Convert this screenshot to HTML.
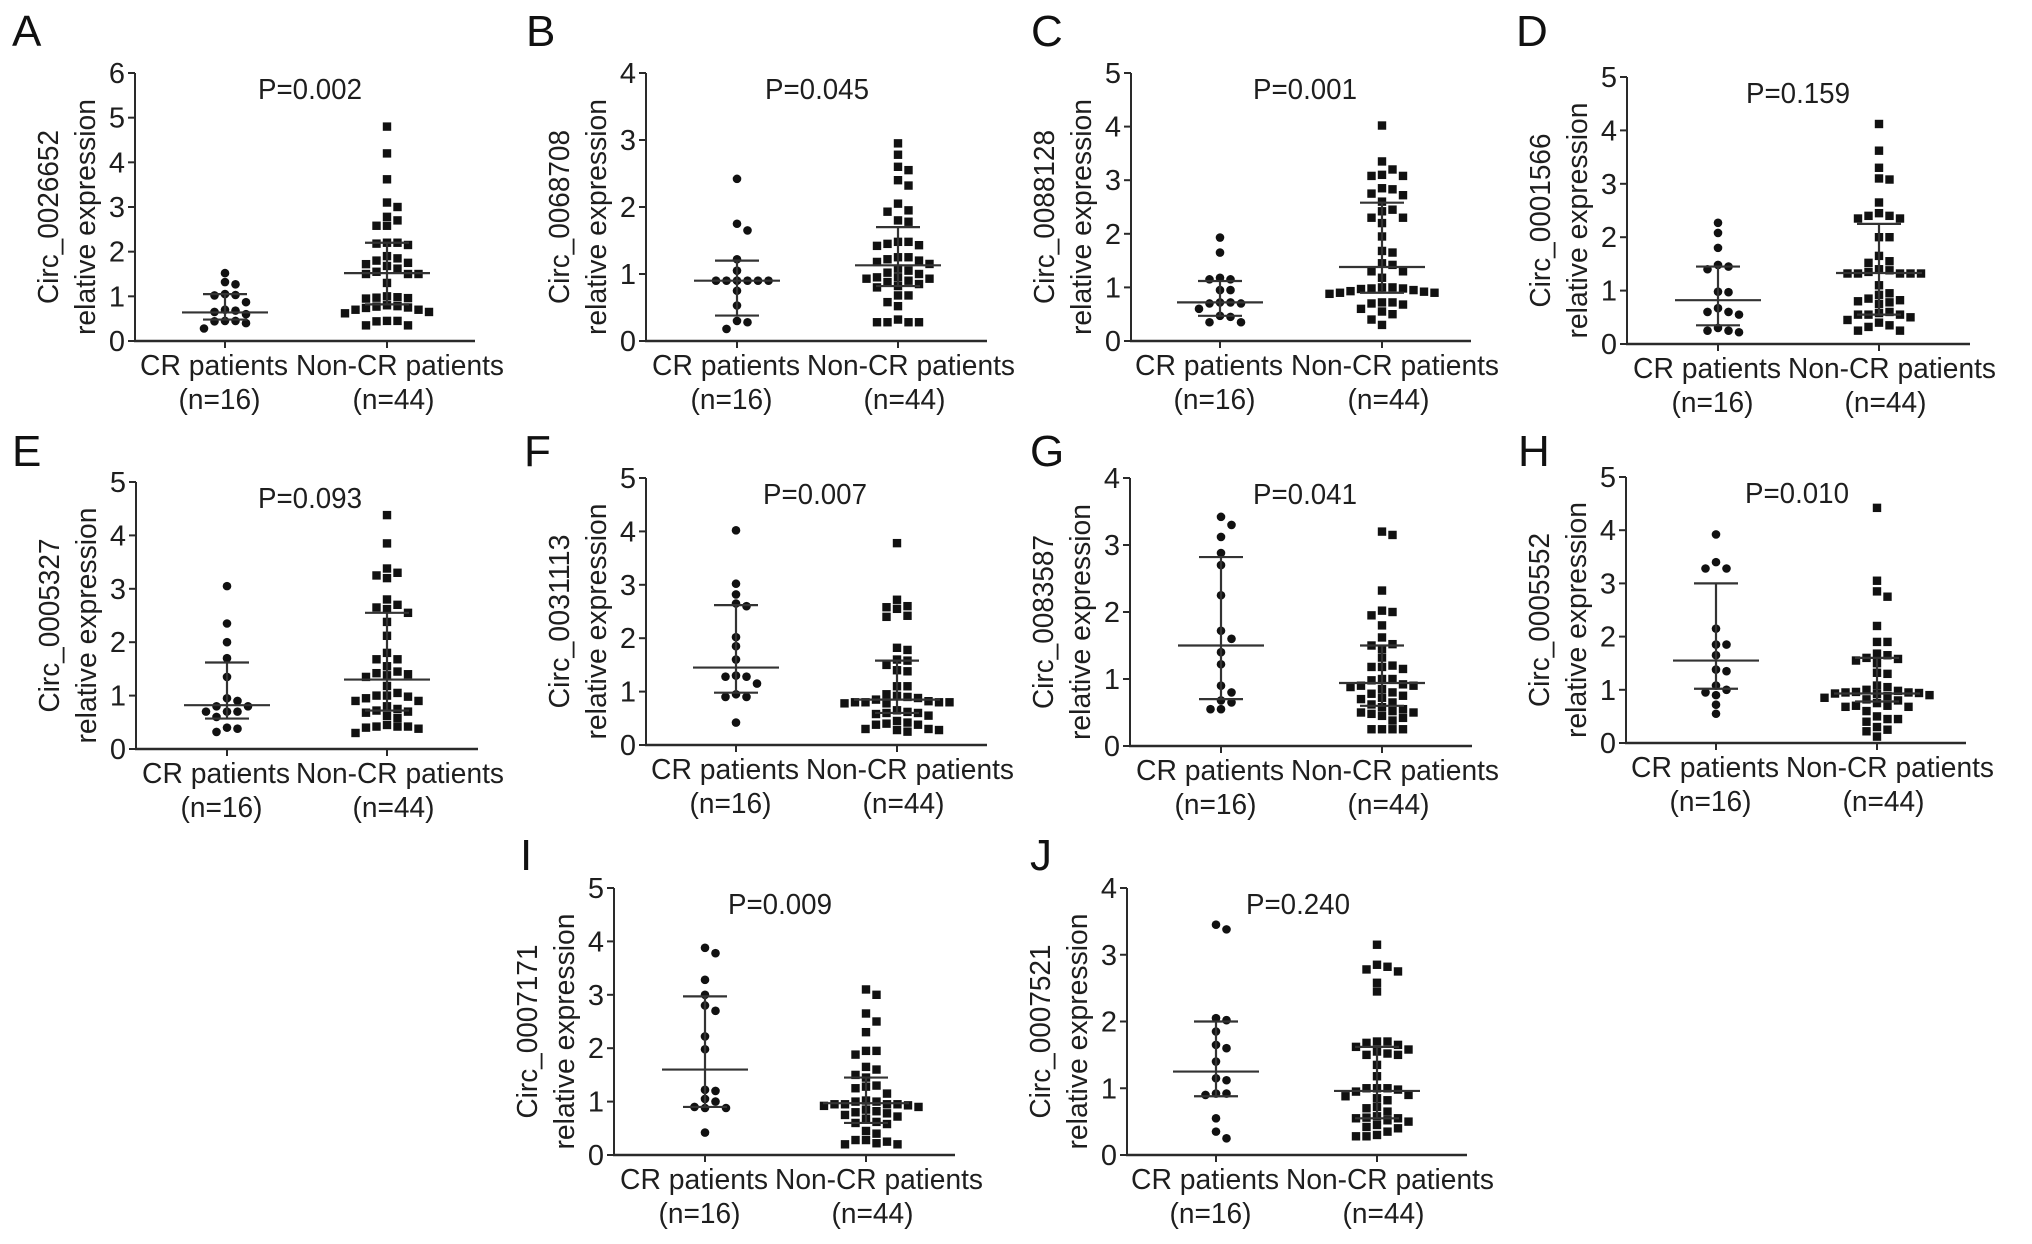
<!DOCTYPE html>
<html><head><meta charset="utf-8"><style>
html,body{margin:0;padding:0;background:#fff;}
svg{display:block;font-family:"Liberation Sans",Arial,sans-serif;}
</style></head><body>
<svg id="fig" width="2032" height="1244" viewBox="0 0 2032 1244" xmlns="http://www.w3.org/2000/svg"></svg>
<script>
// ---------- data ----------
const categories = ["CR patients", "Non-CR patients"];
const categoryN = ["(n=16)", "(n=44)"];
const panelLetters = ["A","B","C","D","E","F","G","H","I","J"];
const circIds = ["Circ_0026652","Circ_0068708","Circ_0088128","Circ_0001566","Circ_0005327","Circ_0031113","Circ_0083587","Circ_0005552","Circ_0007171","Circ_0007521"];
const pValues = ["P=0.002","P=0.045","P=0.001","P=0.159","P=0.093","P=0.007","P=0.041","P=0.010","P=0.009","P=0.240"];
const yMax = [6,4,5,5,5,5,4,5,5,4];

const crA = [1.52,1.32,1.27,1.05,1.03,1.02,0.87,0.70,0.68,0.65,0.60,0.45,0.45,0.44,0.40,0.28];
const ncrA = [4.8,4.2,3.62,3.1,3.0,2.78,2.7,2.58,2.58,2.2,2.2,2.15,2.18,1.9,1.85,1.8,1.75,1.72,1.68,1.62,1.55,1.5,1.5,1.5,1.3,1.0,0.98,0.97,0.96,0.95,0.8,0.78,0.77,0.75,0.74,0.7,0.7,0.65,0.62,0.45,0.45,0.44,0.35,0.35];
const crB = [2.42,1.75,1.65,1.22,1.05,0.9,0.9,0.9,0.9,0.9,0.9,0.75,0.53,0.3,0.28,0.18];
const ncrB = [2.95,2.78,2.6,2.55,2.4,2.32,2.05,1.95,1.93,1.8,1.78,1.48,1.48,1.45,1.43,1.42,1.25,1.25,1.22,1.2,1.18,1.15,1.08,1.05,1.02,1.0,0.95,0.95,0.93,0.93,0.9,0.88,0.85,0.82,0.8,0.68,0.68,0.58,0.52,0.32,0.28,0.28,0.28,0.28];
const crC = [1.93,1.65,1.18,1.15,1.15,0.95,0.95,0.72,0.72,0.7,0.7,0.6,0.47,0.45,0.35,0.35];
const ncrC = [4.02,3.35,3.2,3.1,3.08,3.08,2.83,2.75,2.72,2.85,2.6,2.45,2.42,2.3,2.3,2.2,1.95,1.68,1.65,1.45,1.42,1.3,1.3,1.18,1.0,1.0,0.97,0.95,0.93,0.92,0.9,0.9,0.88,0.98,0.98,0.72,0.72,0.7,0.68,0.6,0.55,0.5,0.4,0.3];
const crD = [2.27,2.08,1.8,1.48,1.45,1.4,0.98,0.97,0.67,0.6,0.6,0.55,0.3,0.25,0.25,0.22];
const ncrD = [4.12,3.62,3.3,3.08,3.1,2.65,2.45,2.4,2.4,2.35,2.35,2.0,2.0,1.65,1.52,1.55,1.4,1.35,1.32,1.32,1.32,1.32,1.32,1.38,1.1,0.95,0.92,0.85,0.82,0.8,0.78,0.75,0.6,0.58,0.55,0.55,0.55,0.5,0.45,0.4,0.35,0.32,0.25,0.25];
const crE = [3.05,2.35,2.0,1.7,1.35,0.95,0.9,0.8,0.8,0.7,0.7,0.7,0.6,0.4,0.38,0.32];
const ncrE = [4.38,3.85,3.38,3.3,3.25,3.2,2.8,2.7,2.65,2.62,2.55,2.38,2.12,1.8,1.68,1.68,1.55,1.45,1.42,1.4,1.38,1.35,1.18,1.05,1.0,1.0,0.98,0.95,0.9,0.9,0.8,0.75,0.72,0.7,0.68,0.62,0.58,0.45,0.42,0.42,0.42,0.4,0.38,0.3];
const crF = [4.02,3.02,2.82,2.65,2.6,2.02,1.85,1.6,1.3,1.28,1.28,1.15,0.95,0.9,0.9,0.42];
const ncrF = [3.78,2.72,2.6,2.58,2.55,2.42,2.4,1.82,1.78,1.6,1.58,1.5,1.4,1.38,1.1,1.1,0.95,0.92,0.9,0.88,0.85,0.82,0.8,0.8,0.8,0.8,0.78,0.78,0.65,0.62,0.6,0.6,0.58,0.55,0.45,0.42,0.4,0.38,0.38,0.3,0.28,0.25,0.28,0.3];
const crG = [3.42,3.3,3.12,2.88,2.7,2.25,1.72,1.6,1.4,1.22,0.9,0.8,0.68,0.65,0.55,0.55];
const ncrG = [3.2,3.15,2.32,2.02,2.0,1.95,1.8,1.62,1.52,1.5,1.45,1.32,1.2,1.18,1.18,1.15,1.0,1.0,0.98,0.92,0.9,0.9,0.88,0.85,0.8,0.78,0.75,0.72,0.7,0.65,0.62,0.58,0.55,0.52,0.5,0.5,0.48,0.45,0.42,0.38,0.25,0.25,0.25,0.25];
const crH = [3.92,3.4,3.28,3.28,2.15,1.85,1.85,1.65,1.38,1.35,1.08,1.0,0.95,0.9,0.72,0.55];
const ncrH = [4.42,3.05,2.85,2.75,2.2,1.9,1.9,1.68,1.65,1.6,1.58,1.55,1.5,1.32,1.3,1.08,1.05,1.0,0.98,0.96,0.95,0.95,0.94,0.93,0.92,0.9,0.88,0.85,0.82,0.8,0.75,0.7,0.7,0.68,0.68,0.6,0.5,0.45,0.45,0.4,0.3,0.25,0.22,0.12];
const crI = [3.88,3.78,3.28,3.0,2.8,2.7,2.22,1.98,1.22,1.2,1.05,1.0,0.9,0.88,0.88,0.42];
const ncrI = [3.1,3.0,2.65,2.5,2.3,1.95,1.95,1.88,1.65,1.6,1.5,1.45,1.3,1.28,1.25,1.15,1.02,1.0,1.0,0.95,0.95,0.95,0.95,0.93,0.92,0.9,0.85,0.82,0.8,0.78,0.75,0.72,0.68,0.62,0.6,0.58,0.45,0.4,0.28,0.25,0.22,0.2,0.2,0.28];
const crJ = [3.45,3.38,2.05,2.02,1.85,1.65,1.6,1.4,1.15,1.12,0.92,0.92,0.9,0.55,0.35,0.25];
const ncrJ = [3.15,2.85,2.82,2.78,2.75,2.58,2.45,1.7,1.7,1.68,1.65,1.62,1.58,1.55,1.52,1.5,1.5,1.35,1.18,1.0,1.0,1.0,0.98,0.95,0.9,0.88,0.85,0.82,0.72,0.7,0.65,0.58,0.56,0.55,0.55,0.52,0.5,0.45,0.42,0.4,0.35,0.3,0.28,0.28];

// summary lines per panel: [center, low, high] for CR and Non-CR
const crStats = [[0.64,0.48,1.05],[0.9,0.38,1.2],[0.72,0.47,1.12],[0.82,0.35,1.45],[0.82,0.57,1.62],[1.45,0.98,2.62],[1.5,0.7,2.82],[1.55,1.02,3.0],[1.6,0.9,2.97],[1.25,0.88,2.0]];
const ncrStats = [[1.52,0.82,2.2],[1.13,0.82,1.7],[1.38,0.9,2.58],[1.33,0.55,2.25],[1.3,0.72,2.55],[0.85,0.6,1.58],[0.94,0.6,1.5],[0.93,0.78,1.6],[0.97,0.6,1.45],[0.96,0.55,1.62]];

const crSeries = [crA,crB,crC,crD,crE,crF,crG,crH,crI,crJ];
const ncrSeries = [ncrA,ncrB,ncrC,ncrD,ncrE,ncrF,ncrG,ncrH,ncrI,ncrJ];

// ---------- layout (pixel geometry, not data) ----------
const layout = [
 {ax:135, top:73, bot:341, end:475, cr:225, ncr:387, lx:12, ly:46, pcx:310},
 {ax:646, top:73, bot:341, end:987, cr:737, ncr:898, lx:526, ly:46, pcx:817},
 {ax:1131,top:73, bot:341, end:1471,cr:1220,ncr:1382,lx:1031,ly:46, pcx:1305},
 {ax:1627,top:77, bot:344, end:1970,cr:1718,ncr:1879,lx:1516,ly:46, pcx:1798},
 {ax:136, top:482,bot:749, end:478, cr:227, ncr:387, lx:12, ly:466,pcx:310},
 {ax:646, top:478,bot:745, end:987, cr:736, ncr:897, lx:524, ly:466,pcx:815},
 {ax:1130,top:478,bot:746, end:1472,cr:1221,ncr:1382,lx:1030,ly:466,pcx:1305},
 {ax:1626,top:477,bot:743, end:1966,cr:1716,ncr:1877,lx:1518,ly:466,pcx:1797},
 {ax:614, top:888,bot:1155,end:955, cr:705, ncr:866, lx:520, ly:870,pcx:780},
 {ax:1127,top:888,bot:1155,end:1467,cr:1216,ncr:1377,lx:1030,ly:870,pcx:1298}
];

const NS = "http://www.w3.org/2000/svg";
const svg = document.getElementById('fig');
function mk(tag, attrs, parent){
  const e = document.createElementNS(NS, tag);
  for (const k in attrs) e.setAttribute(k, attrs[k]);
  parent.appendChild(e);
  return e;
}
const INK = "#2a2a2a";
const TXT = "#1e1e1e";

function swarm(vals, cx, yScale){
  const order = vals.map((v,i)=>i).sort((a,b)=>vals[b]-vals[a]);
  const placed = [];
  const out = new Array(vals.length);
  const step = 10.5;
  order.forEach(i=>{
    const y = yScale(vals[i]);
    let k = 0, x = cx;
    while (true) {
      const off = k===0 ? 0 : (k%2===1 ? Math.ceil(k/2) : -Math.ceil(k/2)) * step;
      x = cx + off;
      const hit = placed.some(p => Math.abs(p.y - y) < 8.5 && Math.abs(p.x - x) < step - 0.5);
      if (!hit) break;
      k++;
    }
    placed.push({x,y});
    out[i] = {x,y};
  });
  return out;
}

layout.forEach((L, pi) => {
  const g = mk('g', {}, svg);
  
  
  const max = yMax[pi];
  const yScale = v => L.bot - v / max * (L.bot - L.top);

  const letter = mk('text', {x:L.lx, y:L.ly, 'font-size':44, fill:"#111"}, g);
  letter.textContent = panelLetters[pi];
  
  

  const yAxis = mk('line', {x1:L.ax, y1:L.top, x2:L.ax, y2:L.bot+1, stroke:INK, 'stroke-width':2}, g);
  
  
  const xAxis = mk('line', {x1:L.ax-1, y1:L.bot, x2:L.end, y2:L.bot, stroke:INK, 'stroke-width':2.5}, g);
  
  

  for (let t = 0; t <= max; t++) {
    const y = yScale(t);
    const tk = mk('line', {x1:L.ax-7, y1:y, x2:L.ax, y2:y, stroke:INK, 'stroke-width':2}, g);
    
    
    const tl = mk('text', {x:L.ax-10, y:y+10, 'font-size':29, 'text-anchor':'end', fill:TXT}, g);
    tl.textContent = String(t);
    
    
  }
  [L.cr, L.ncr].forEach(cx => {
    const tk = mk('line', {x1:cx, y1:L.bot, x2:cx, y2:L.bot+7, stroke:INK, 'stroke-width':2}, g);
    
    
  });

  const catW = [148, 208];
  const catShift = [-11, 13];
  [L.cr, L.ncr].forEach((cx, ci) => {
    const t1 = mk('text', {x:cx+catShift[ci], y:L.bot+34, 'font-size':29, 'text-anchor':'middle', fill:TXT, textLength:catW[ci], lengthAdjust:'spacingAndGlyphs'}, g);
    t1.textContent = categories[ci];
    
    
    const t2 = mk('text', {x:cx+catShift[ci]*0.5, y:L.bot+68, 'font-size':29, 'text-anchor':'middle', fill:TXT, textLength:82, lengthAdjust:'spacingAndGlyphs'}, g);
    t2.textContent = categoryN[ci];
    
    
  });

  const cy = (L.top + L.bot)/2 + 10;
  const y1 = mk('text', {x:0, y:0, 'font-size':29, 'text-anchor':'middle', fill:TXT, textLength:174, lengthAdjust:'spacingAndGlyphs', transform:`translate(${L.ax-77},${cy}) rotate(-90)`}, g);
  y1.textContent = circIds[pi];
  
  
  const y2 = mk('text', {x:0, y:0, 'font-size':29, 'text-anchor':'middle', fill:TXT, textLength:236, lengthAdjust:'spacingAndGlyphs', transform:`translate(${L.ax-40},${cy}) rotate(-90)`}, g);
  y2.textContent = "relative expression";
  
  

  const pt = mk('text', {x:L.pcx, y:L.top+26, 'font-size':29, 'text-anchor':'middle', fill:TXT, textLength:104, lengthAdjust:'spacingAndGlyphs'}, g);
  pt.textContent = pValues[pi];
  
  

  swarm(crSeries[pi], L.cr, yScale).forEach(p => {
    const c = mk('circle', {cx:p.x, cy:p.y, r:4.3, fill:"#111"}, g);
    
    
  });
  swarm(ncrSeries[pi], L.ncr, yScale).forEach(p => {
    const r = mk('rect', {x:p.x-4.2, y:p.y-4.2, width:8.4, height:8.4, fill:"#111"}, g);
    
    
  });

  [[L.cr, crStats[pi]], [L.ncr, ncrStats[pi]]].forEach(([cx, s], si) => {
    const sg = mk('g', {stroke:"#333", 'stroke-width':2.2}, g);
    
    
    mk('line', {x1:cx, y1:yScale(s[1]), x2:cx, y2:yScale(s[2])}, sg);
    mk('line', {x1:cx-43, y1:yScale(s[0]), x2:cx+43, y2:yScale(s[0])}, sg);
    mk('line', {x1:cx-22, y1:yScale(s[1]), x2:cx+22, y2:yScale(s[1])}, sg);
    mk('line', {x1:cx-22, y1:yScale(s[2]), x2:cx+22, y2:yScale(s[2])}, sg);
  });
});
</script>
</body></html>
